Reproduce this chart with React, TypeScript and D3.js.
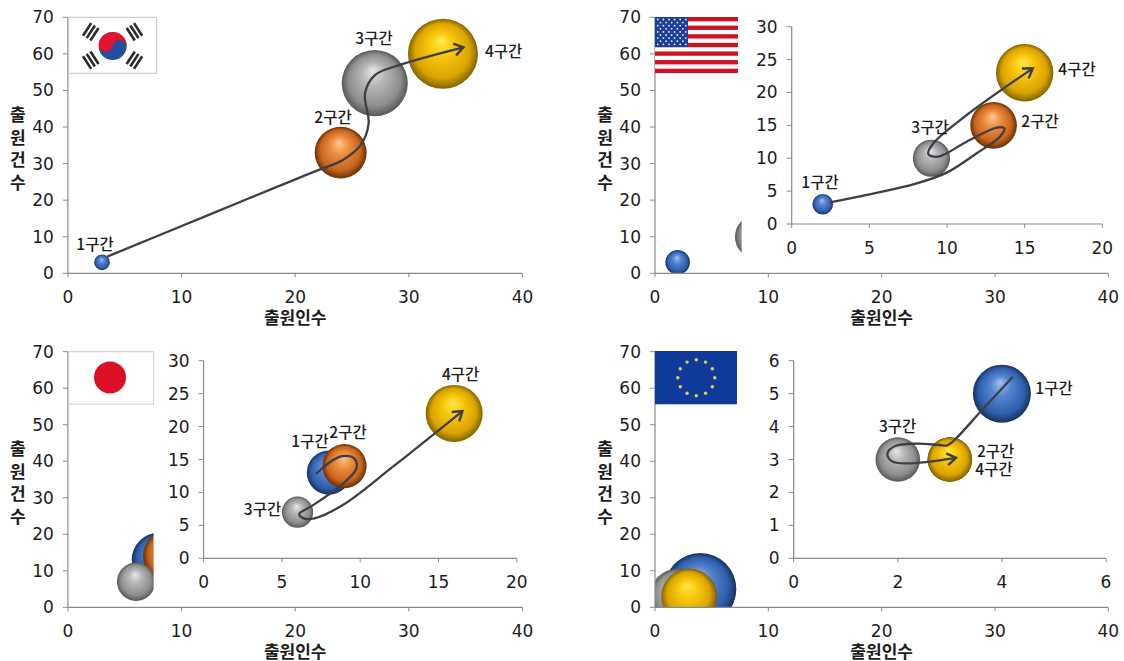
import React from "react";
import * as d3 from "d3";

// Stage names, one bubble per stage in every panel.
const stages = ["1구간", "2구간", "3구간", "4구간"];
const xAxisTitle = "출원인수";
const yAxisTitle = ["출", "원", "건", "수"];
const mainXTicks = [0, 10, 20, 30, 40];
const mainYTicks = [0, 10, 20, 30, 40, 50, 60, 70];

// Applicants, filings and relative bubble size per stage.
const krApplicants = [3, 24, 27, 33];
const krFilings = [3, 33, 52, 60];
const krBubble = [5, 55, 89, 100];
const usApplicants = [2, 13, 9, 15];
const usFilings = [3, 15, 10, 23];
const usBubble = [13, 66, 42, 100];
const jpApplicants = [8, 9, 6, 16];
const jpFilings = [13, 14, 7, 22];
const jpBubble = [60, 60, 30, 100];
const euApplicants = [4, 3, 2, 3];
const euFilings = [5, 3, 3, 3];
const euBubble = [100, 59, 59, 59];

// Trajectory arrows, as [applicants, filings] waypoints.
const krTrail: [number, number][] = [[3.46, 4.56], [12.88, 16.6], [21.68, 27.8], [24.2, 31], [25.77, 35.1], [26.46, 41], [26.14, 49.2], [27.02, 54.2], [29.22, 57], [34.8, 61.8]];
const usTrail: [number, number][] = [[2.47, 3.29], [8.05, 6.18], [9.98, 7.81], [11.91, 10.75], [13.41, 13.28], [13.69, 14.55], [13.2, 14.65], [11.27, 12.52], [9.44, 10.24], [8.8, 10.6], [9.12, 12.27], [11.27, 16.57], [15.52, 23.67]];
const jpTrail: [number, number][] = [[7.18, 12.8], [8.1, 14.67], [8.89, 15.53], [9.62, 15.17], [9.76, 13.66], [8.67, 10.87], [6.84, 7.84], [6.11, 6.73], [6.39, 6.07], [7.07, 6.07], [8.89, 8.09], [12.09, 13.91], [16.53, 22.36]];
const euTrail: [number, number][] = [[4.21, 5.51], [3.6, 4.47], [3.1, 3.61], [2.95, 3.43], [2.8, 3.44], [2.36, 3.48], [1.95, 3.41], [1.8, 3.18], [1.88, 2.95], [2.17, 2.88], [3.12, 3.05]];

const fills = ["blue", "orange", "gray", "yellow"];
const gradients: Record<string, string[]> = {
  blue: ["#a3c2ee", "#5585cf", "#3060ad", "#16315e"],
  orange: ["#ffc896", "#ee8e40", "#c8641c", "#683006"],
  gray: ["#e8e8e8", "#b6b6b6", "#8e8e8e", "#585858"],
  yellow: ["#ffe84e", "#f8c80a", "#dba400", "#836400"],
};

const tickFont = "'DejaVu Sans', sans-serif";
const koFont = "'Noto Sans CJK KR', sans-serif";
const ink = "#1c1c1c";
const axisGray = "#8a8a8a";

type Box = { x0: number; x1: number; y0: number; y1: number };

function Axes({ x, y, xTicks, yTicks, box, yLabelGap, xLabelGap }: any) {
  return (
    <g>
      <line x1={box.x0} x2={box.x1} y1={box.y0} y2={box.y0} stroke={axisGray} strokeWidth={1.2} />
      <line x1={box.x0} x2={box.x0} y1={box.y0} y2={box.y1} stroke={axisGray} strokeWidth={1.2} />
      {xTicks.map((t: number) => (
        <g key={t}>
          <line x1={x(t)} x2={x(t)} y1={box.y0} y2={box.y0 + 4} stroke={axisGray} />
          <text x={x(t)} y={box.y0 + xLabelGap} textAnchor="middle" dominantBaseline="central" fontFamily={tickFont} fontSize={17} fill={ink}>{t}</text>
        </g>
      ))}
      {yTicks.map((t: number) => (
        <g key={t}>
          <line x1={box.x0 - 5} x2={box.x0} y1={y(t)} y2={y(t)} stroke={axisGray} />
          <text x={box.x0 - yLabelGap} y={y(t)} textAnchor="end" dominantBaseline="central" fontFamily={tickFont} fontSize={17} fill={ink}>{t}</text>
        </g>
      ))}
    </g>
  );
}

function Trail({ points, x, y }: any) {
  const path = d3.line<[number, number]>().x((d) => x(d[0])).y((d) => y(d[1])).curve(d3.curveCatmullRom.alpha(0.5));
  return <path d={path(points) ?? ""} fill="none" stroke="#3e3e48" strokeWidth={2.3} markerEnd="url(#arrow-head)" />;
}

function StageLabels({ spots }: { spots: [number, number][] }) {
  return (
    <g>
      {spots.map((s, i) => (
        <text key={i} x={s[0]} y={s[1]} textAnchor="middle" dominantBaseline="central" fontFamily={koFont} fontSize={15.5} fontWeight={500} fill={ink}>{stages[i]}</text>
      ))}
    </g>
  );
}

function FlagKR({ x, y }: { x: number; y: number }) {
  const w = 88, h = 56, cx = x + 44, cy = y + 28.7, r = 14;
  const bars = (angle: number) => (
    <g transform={`translate(${cx},${cy}) rotate(${angle}) translate(0,${-26})`} fill="#2a2a2a">
      {[-4.4, 0, 4.4].map((o) => <rect key={o} x={-7.5} y={o - 1.3} width={15} height={2.6} />)}
    </g>
  );
  return (
    <g>
      <rect x={x} y={y} width={w} height={h} fill="#fff" stroke="#c4c4c4" />
      {bars(-57)}{bars(57)}{bars(-123)}{bars(123)}
      <circle cx={cx} cy={cy} r={r} fill="#1f4f9e" />
      <g transform={`translate(${cx},${cy}) rotate(10)`}>
        <path d={`M${-r},0 A${r},${r} 0 0 1 ${r},0 A${r / 2},${r / 2} 0 0 0 0,0 A${r / 2},${r / 2} 0 0 1 ${-r},0 Z`} fill="#e3132d" />
      </g>
    </g>
  );
}

function FlagUS({ x, y }: { x: number; y: number }) {
  const w = 83, h = 56, rows = d3.range(13), sh = h / 13;
  const stars = d3.range(9).flatMap((row) =>
    d3.range(row % 2 ? 5 : 6).map((c) => [x + (row % 2 ? 5.5 : 2.8) + c * 5.6, y + 2.5 + row * 3.1]));
  return (
    <g>
      <rect x={x} y={y} width={w} height={h} fill="#fff" />
      {rows.filter((i) => i % 2 === 0).map((i) => <rect key={i} x={x} y={y + i * sh} width={w} height={sh} fill="#cf1220" />)}
      <rect x={x} y={y} width={33} height={sh * 7} fill="#1f3f94" />
      {stars.map((s, i) => <circle key={i} cx={s[0]} cy={s[1]} r={0.9} fill="#e6ecff" />)}
    </g>
  );
}

function FlagJP({ x, y }: { x: number; y: number }) {
  return (
    <g>
      <rect x={x} y={y} width={85} height={52.5} fill="#fff" stroke="#cfcfcf" />
      <circle cx={x + 41.4} cy={y + 25.7} r={16} fill="#dc1024" />
    </g>
  );
}

function FlagEU({ x, y }: { x: number; y: number }) {
  const cx = x + 41.3, cy = y + 26.7;
  return (
    <g>
      <rect x={x} y={y} width={82} height={53.3} fill="#0f3a9c" />
      {d3.range(12).map((i) => {
        const a = (i * Math.PI) / 6;
        return <circle key={i} cx={cx + 18.5 * Math.sin(a)} cy={cy - 18 * Math.cos(a)} r={1.7} fill="#d9d84a" />;
      })}
    </g>
  );
}

function Panel({ id, box, titleX, xs, ys, sizes, maxR, inset, trail, labels, flag }: any) {
  const x = d3.scaleLinear().domain([0, 40]).range([box.x0, box.x1]);
  const y = d3.scaleLinear().domain([0, 70]).range([box.y0, box.y1]);
  const r = d3.scaleSqrt().domain([0, 100]).range([0, maxR]);
  const clipId = `plot-${id}`;
  let insetLayer = null;
  if (inset) {
    const ib: Box = inset.box;
    const ix = d3.scaleLinear().domain([0, inset.xMax]).range([ib.x0, ib.x1]);
    const iy = d3.scaleLinear().domain([0, inset.yMax]).range([ib.y0, ib.y1]);
    const ir = d3.scaleSqrt().domain([0, 100]).range([0, inset.maxR]);
    insetLayer = (
      <g>
        <rect x={inset.maskLeft} y={box.y1 - 8} width={box.x1 + 12 - inset.maskLeft} height={inset.maskBottom - box.y1 + 8} fill="#fff" />
        <Axes x={ix} y={iy} xTicks={inset.xTicks} yTicks={inset.yTicks} box={ib} yLabelGap={14} xLabelGap={24} />
        {xs.map((v: number, i: number) => (
          <circle key={i} cx={ix(v)} cy={iy(ys[i])} r={ir(sizes[i])} fill={`url(#sphere-${fills[i]})`} />
        ))}
        <Trail points={trail} x={ix} y={iy} />
      </g>
    );
  }
  return (
    <g>
      <clipPath id={clipId}>
        <rect x={box.x0} y={box.y1 - 10} width={box.x1 - box.x0 + 10} height={box.y0 - box.y1 + 10} />
      </clipPath>
      <g clipPath={`url(#${clipId})`}>
        {xs.map((v: number, i: number) => (
          <circle key={i} cx={x(v)} cy={y(ys[i])} r={r(sizes[i])} fill={`url(#sphere-${fills[i]})`} />
        ))}
      </g>
      {!inset && <Trail points={trail} x={x} y={y} />}
      {insetLayer}
      <Axes x={x} y={y} xTicks={mainXTicks} yTicks={mainYTicks} box={box} yLabelGap={14} xLabelGap={23.5} />
      {flag}
      <StageLabels spots={labels} />
      <text x={(box.x0 + box.x1) / 2} y={box.y0 + 43} textAnchor="middle" dominantBaseline="central" fontFamily={koFont} fontSize={17} fontWeight={700} fill={ink}>{xAxisTitle}</text>
      {yAxisTitle.map((c, i) => (
        <text key={c} x={titleX} y={box.y0 - 160 + i * 22.7} textAnchor="middle" dominantBaseline="central" fontFamily={koFont} fontSize={17} fontWeight={700} fill={ink}>{c}</text>
      ))}
    </g>
  );
}

export default function App() {
  const boxes: Record<string, Box> = {
    kr: { x0: 67.9, x1: 522.5, y0: 273.3, y1: 17.3 },
    us: { x0: 655, x1: 1108.3, y0: 273.3, y1: 17.3 },
    jp: { x0: 67.9, x1: 522.5, y0: 607.3, y1: 351.7 },
    eu: { x0: 655, x1: 1108.3, y0: 607.3, y1: 351.7 },
  };
  return (
    <svg width={1124} height={661} style={{ position: "absolute", left: 0, top: 0, background: "#fff" }}>
      <defs>
        {fills.map((f) => (
          <radialGradient key={f} id={`sphere-${f}`} cx="50%" cy="50%" r="50%" fx="47%" fy="30%">
            <stop offset="0%" stopColor={gradients[f][0]} />
            <stop offset="35%" stopColor={gradients[f][1]} />
            <stop offset="78%" stopColor={gradients[f][2]} />
            <stop offset="100%" stopColor={gradients[f][3]} />
          </radialGradient>
        ))}
        <marker id="arrow-head" viewBox="0 0 14 14" refX="12" refY="7" markerWidth="14" markerHeight="14" markerUnits="userSpaceOnUse" orient="auto">
          <path d="M3,1 L12,7 L3,13" fill="none" stroke="#3e3e48" strokeWidth={2.4} />
        </marker>
      </defs>

      <Panel id="kr" box={boxes.kr} titleX={17.9} xs={krApplicants} ys={krFilings} sizes={krBubble} maxR={35} trail={krTrail}
        labels={[[95, 242.5], [333, 116], [374, 36.5], [503.6, 50]]} flag={<FlagKR x={68.6} y={17.3} />} />

      <Panel id="us" box={boxes.us} titleX={605} xs={usApplicants} ys={usFilings} sizes={usBubble} maxR={34} trail={usTrail}
        inset={{ box: { x0: 791.7, x1: 1102.3, y0: 224, y1: 26.7 }, xMax: 20, yMax: 30, xTicks: [0, 5, 10, 15, 20], yTicks: [0, 5, 10, 15, 20, 25, 30], maxR: 28.7, maskLeft: 741.7, maskBottom: 262 }}
        labels={[[820, 181], [1040, 120], [930, 126], [1077, 67.5]]} flag={<FlagUS x={655} y={17} />} />

      <Panel id="jp" box={boxes.jp} titleX={17.9} xs={jpApplicants} ys={jpFilings} sizes={jpBubble} maxR={35} trail={jpTrail}
        inset={{ box: { x0: 203.6, x1: 516.8, y0: 558.3, y1: 360.7 }, xMax: 20, yMax: 30, xTicks: [0, 5, 10, 15, 20], yTicks: [0, 5, 10, 15, 20, 25, 30], maxR: 28.5, maskLeft: 153.6, maskBottom: 601 }}
        labels={[[310, 440], [348, 431], [262.5, 507.7], [460.7, 372.7]]} flag={<FlagJP x={68.6} y={351.7} />} />

      <Panel id="eu" box={boxes.eu} titleX={605} xs={euApplicants} ys={euFilings} sizes={euBubble} maxR={36} trail={euTrail}
        inset={{ box: { x0: 793.7, x1: 1106, y0: 558.3, y1: 360.7 }, xMax: 6, yMax: 6, xTicks: [0, 2, 4, 6], yTicks: [0, 1, 2, 3, 4, 5, 6], maxR: 29, maskLeft: 737, maskBottom: 601 }}
        labels={[[1054, 387.3], [995.7, 450], [897.7, 425], [994, 467.5]]} flag={<FlagEU x={655} y={351} />} />
    </svg>
  );
}
